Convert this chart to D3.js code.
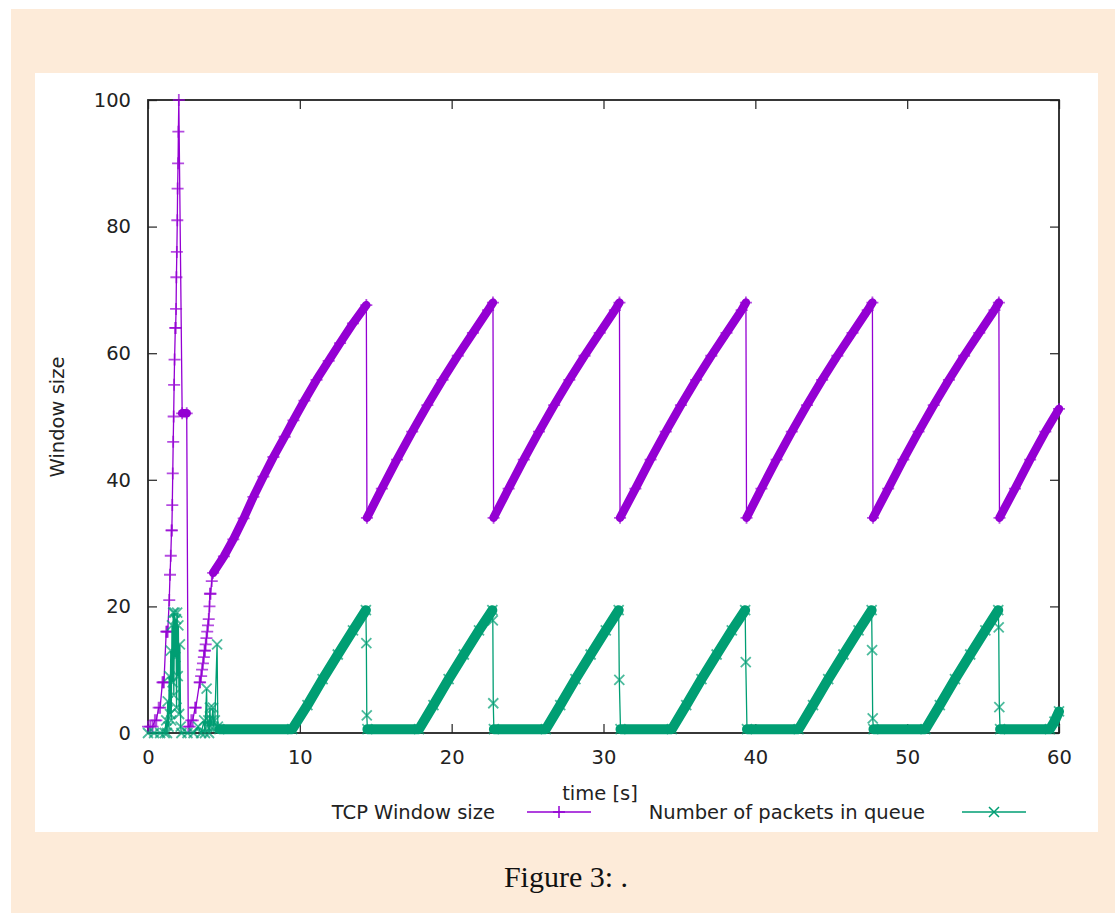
<!DOCTYPE html>
<html>
<head>
<meta charset="utf-8">
<script src="https://cdn.jsdelivr.net/npm/d3@7"></script>
<style>
  body { margin: 0; background: #fff; }
  svg text { font-family: "DejaVu Sans", sans-serif; fill: #222; }
</style>
</head>
<body>
<svg id="chart" width="1115" height="913"></svg>
<script>
// Axis ticks and labels
const xTicks = [0, 10, 20, 30, 40, 50, 60];
const yTicks = [0, 20, 40, 60, 80, 100];
const seriesNames = ["TCP Window size", "Number of packets in queue"];
const xTitle = "time [s]";
const yTitle = "Window size";
const caption = "Figure 3: .";

// TCP window, slow start phases (single packets, [time, size])
const windowStart = [
  [0, 1], [0.15, 1], [0.3, 1], [0.45, 2], [0.55, 2], [0.7, 4], [0.8, 4],
  [0.95, 8], [1.0, 8], [1.05, 8], [1.2, 16], [1.25, 16], [1.3, 16],
  [1.4, 21], [1.45, 25], [1.5, 28], [1.55, 32], [1.57, 32], [1.6, 36],
  [1.63, 41], [1.66, 46], [1.69, 50], [1.72, 55], [1.75, 59], [1.8, 64],
  [1.82, 64], [1.85, 67], [1.87, 72], [1.9, 76], [1.93, 81], [1.95, 86],
  [1.98, 90], [2.0, 95], [2.03, 100],
  [2.65, 1], [2.75, 1], [2.85, 2], [2.95, 2], [3.1, 4], [3.15, 4],
  [3.4, 8], [3.43, 8], [3.5, 9], [3.56, 10], [3.62, 11], [3.68, 12],
  [3.72, 13], [3.75, 13], [3.8, 14], [3.85, 15], [3.9, 16], [3.95, 17],
  [4.0, 18], [4.05, 20], [4.08, 22], [4.12, 22], [4.2, 24]
];

// TCP window, dense stretches (one sample per packet, markers overlap)
const windowCycles = [
  [[2.25, 50.5], [2.55, 50.5]],
  [[4.29, 25.3], [5.0, 27.9], [5.62, 30.6], [6.3, 33.9], [6.94, 37.3], [7.6, 40.5],
   [8.26, 43.6], [9.0, 46.8], [9.58, 49.4], [10.3, 52.5], [11.1, 55.8],
   [11.9, 58.8], [12.65, 61.6], [13.5, 64.7], [14.38, 67.6]],
  [[14.42, 34], [15.4, 38.6], [16.4, 43.2], [17.4, 47.6], [18.4, 51.8],
   [19.4, 55.8], [20.4, 59.6], [21.4, 63.2], [22.4, 66.8], [22.72, 68]],
  [[22.76, 34], [23.75, 38.6], [24.75, 43.2], [25.75, 47.6], [26.75, 51.8],
   [27.75, 55.8], [28.75, 59.6], [29.75, 63.2], [30.75, 66.8], [31.05, 68]],
  [[31.09, 34], [32.1, 38.6], [33.1, 43.2], [34.1, 47.6], [35.1, 51.8],
   [36.1, 55.8], [37.1, 59.6], [38.1, 63.2], [39.1, 66.8], [39.38, 68]],
  [[39.42, 34], [40.4, 38.6], [41.4, 43.2], [42.4, 47.6], [43.4, 51.8],
   [44.4, 55.8], [45.4, 59.6], [46.4, 63.2], [47.4, 66.8], [47.71, 68]],
  [[47.75, 34], [48.75, 38.6], [49.75, 43.2], [50.75, 47.6], [51.75, 51.8],
   [52.75, 55.8], [53.75, 59.6], [54.75, 63.2], [55.75, 66.8], [56.04, 68]],
  [[56.08, 34], [57.1, 38.6], [58.1, 43.2], [59.1, 47.6], [60, 51.2]]
];

// Queue length, start-up bursts
const queueStart = [
  [0, 0], [0.4, 0], [0.8, 0], [1.1, 0], [1.2, 2], [1.25, 0], [1.3, 5],
  [1.35, 1], [1.4, 9], [1.45, 3], [1.5, 13], [1.53, 2], [1.58, 17],
  [1.62, 8], [1.66, 19], [1.7, 6], [1.75, 19], [1.8, 12], [1.84, 18],
  [1.88, 4], [1.92, 19], [1.96, 9], [2.0, 17], [2.05, 3], [2.1, 14],
  [2.15, 1], [2.2, 0], [2.6, 0], [3.0, 0], [3.3, 1], [3.5, 0], [3.7, 2],
  [3.75, 0], [3.86, 7], [3.9, 1], [3.98, 2], [4.02, 0], [4.08, 4],
  [4.12, 1], [4.2, 2], [4.28, 4], [4.32, 1], [4.4, 2], [4.55, 14], [4.6, 1]
];

// Queue length, samples on the drops after each loss
const queueDrops = [
  [14.38, 14.2], [14.41, 2.8], [22.71, 17.8], [22.74, 4.7], [31.04, 8.4],
  [39.37, 11.2], [47.69, 13.1], [47.73, 2.3], [56.03, 16.7], [56.07, 4.1]
];

// Queue length, dense stretches (empty queue, then filling up)
const queueCycles = [
  [[4.7, 0.6], [9.5, 0.6], [10.5, 4.4], [11.5, 8.5], [12.5, 12.4], [13.5, 16.2], [14.35, 19.4]],
  [[14.45, 0.6], [17.85, 0.6], [18.8, 4.4], [19.8, 8.5], [20.8, 12.4], [21.8, 16.2], [22.68, 19.4]],
  [[22.78, 0.6], [26.2, 0.6], [27.15, 4.4], [28.15, 8.5], [29.15, 12.4], [30.15, 16.2], [31.0, 19.4]],
  [[31.12, 0.6], [34.5, 0.6], [35.45, 4.4], [36.45, 8.5], [37.45, 12.4], [38.45, 16.2], [39.33, 19.4]],
  [[39.45, 0.6], [42.85, 0.6], [43.8, 4.4], [44.8, 8.5], [45.8, 12.4], [46.8, 16.2], [47.66, 19.4]],
  [[47.78, 0.6], [51.2, 0.6], [52.15, 4.4], [53.15, 8.5], [54.15, 12.4], [55.15, 16.2], [56.0, 19.4]],
  [[56.12, 0.6], [59.4, 0.6], [59.7, 1.8], [60, 3.4]]
];

const PURPLE = "#9400d3";
const GREEN = "#009e73";
const PLUS = "M-6,0H6M0,-6V6";
const CROSS = "M-5,-5L5,5M-5,5L5,-5";

const svg = d3.select("#chart");

// Page background and figure panel
svg.append("rect").attr("x", 11).attr("y", 9).attr("width", 1104).attr("height", 904).attr("fill", "#fdebd9");
svg.append("rect").attr("x", 35).attr("y", 73).attr("width", 1063).attr("height", 759).attr("fill", "#fff");

const x = d3.scaleLinear().domain([0, 60]).range([148, 1059]);
const y = d3.scaleLinear().domain([0, 100]).range([733, 100]);

function styleAxis(a) {
  a.select(".domain").remove();
  a.attr("font-family", "DejaVu Sans").attr("font-size", 19.5);
  a.selectAll(".tick line").attr("stroke", "#333").attr("stroke-width", 1.3);
  a.selectAll(".tick text").attr("fill", "#222");
}

// Axes with mirrored inward ticks
svg.append("g").attr("transform", `translate(0,${y(0)})`)
  .call(d3.axisBottom(x).tickValues(xTicks).tickSize(-9).tickPadding(17)).call(styleAxis);
svg.append("g").attr("transform", `translate(0,${y(100)})`)
  .call(d3.axisTop(x).tickValues(xTicks).tickSize(-9).tickFormat("")).call(styleAxis);
svg.append("g").attr("transform", `translate(${x(0)},0)`)
  .call(d3.axisLeft(y).tickValues(yTicks).tickSize(-9).tickPadding(17)).call(styleAxis);
svg.append("g").attr("transform", `translate(${x(60)},0)`)
  .call(d3.axisRight(y).tickValues(yTicks).tickSize(-9).tickFormat("")).call(styleAxis);

svg.append("rect")
  .attr("x", x(0)).attr("y", y(100))
  .attr("width", x(60) - x(0)).attr("height", y(0) - y(100))
  .attr("fill", "none").attr("stroke", "#222").attr("stroke-width", 1.8);

// Axis titles
svg.append("text").attr("x", 600).attr("y", 800).attr("text-anchor", "middle")
  .attr("font-size", 19.5).text(xTitle);
svg.append("text").attr("transform", "translate(64,417) rotate(-90)").attr("text-anchor", "middle")
  .attr("font-size", 19.5).text(yTitle);

const line = d3.line().x((d) => x(d[0])).y((d) => y(d[1]));
const plot = svg.append("g");

function drawSeries(sparse, runs, color, bandWidth, marker) {
  const points = sparse.concat(...runs).sort((a, b) => d3.ascending(a[0], b[0]));

  // thin connecting line through every sample
  plot.append("path").datum(points).attr("d", line)
    .attr("fill", "none").attr("stroke", color).attr("stroke-width", 1.3);

  // dense stretches: overlapping markers merge into a solid band
  plot.selectAll(null).data(runs).join("path").attr("d", line)
    .attr("fill", "none").attr("stroke", color).attr("stroke-width", bandWidth)
    .attr("stroke-linecap", "round").attr("stroke-linejoin", "round");

  // point markers
  plot.selectAll(null).data(points).join("path")
    .attr("transform", (d) => `translate(${x(d[0])},${y(d[1])})`)
    .attr("d", marker).attr("fill", "none")
    .attr("stroke", color).attr("stroke-width", 1.8).attr("opacity", 0.7);
}

drawSeries(windowStart, windowCycles, PURPLE, 8.5, PLUS);
drawSeries(queueStart.concat(queueDrops), queueCycles, GREEN, 10, CROSS);

// Legend (gnuplot style, text right-justified before the sample)
const legend = [
  { name: seriesNames[0], color: PURPLE, marker: PLUS, textX: 495, lineX: 527 },
  { name: seriesNames[1], color: GREEN, marker: CROSS, textX: 925, lineX: 962 }
];
legend.forEach((d) => {
  svg.append("text").attr("x", d.textX).attr("y", 819).attr("text-anchor", "end")
    .attr("font-size", 19.5).text(d.name);
  svg.append("line").attr("x1", d.lineX).attr("x2", d.lineX + 64).attr("y1", 812).attr("y2", 812)
    .attr("stroke", d.color).attr("stroke-width", 1.5);
  svg.append("path").attr("transform", `translate(${d.lineX + 32},812)`)
    .attr("d", d.marker).attr("fill", "none").attr("stroke", d.color).attr("stroke-width", 1.5);
});

// Caption
svg.append("text").attr("x", 566).attr("y", 887).attr("text-anchor", "middle")
  .style("font-family", "'Liberation Serif', serif").attr("font-size", 30).style("fill", "#111")
  .text(caption);
</script>
</body>
</html>
